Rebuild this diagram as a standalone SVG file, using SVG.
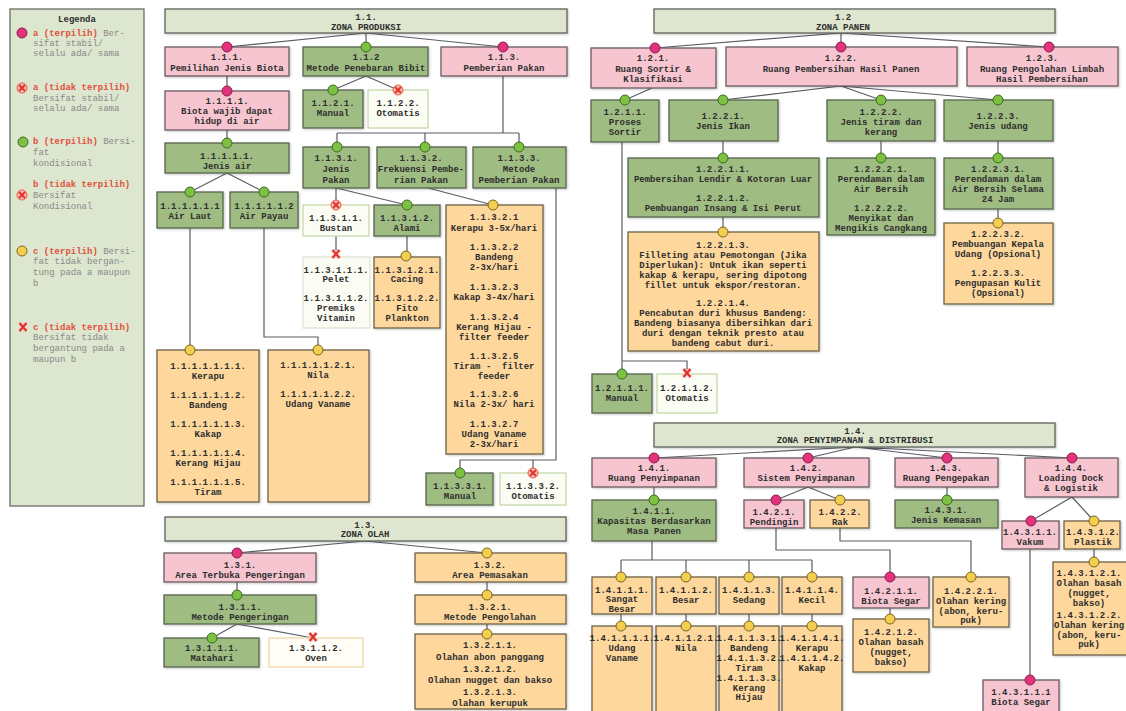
<svg xmlns="http://www.w3.org/2000/svg" xmlns:xlink="http://www.w3.org/1999/xlink" width="1126" height="711" viewBox="0 0 1126 711">
<style>
rect{stroke-width:1.3}
.p{fill:#f6c5d0;stroke:#6c5b60}
.g{fill:#9fbc82;stroke:#58644e}
.o{fill:#fdd79c;stroke:#6e6148}
.w{fill:#fbfcf4;stroke:#c5dbab}
.wo{fill:#fffdf6;stroke:#f0d8a8}
.z{fill:#dfe6cf;stroke:#5e625a}
.lgb{fill:#dde6cf;stroke:#6a6e64}
.sh{filter:url(#sh)}
text{font-family:"Liberation Mono","DejaVu Sans Mono",monospace;font-size:9px}
.t{font-weight:bold;fill:#2e2e2e;text-anchor:middle}
.l{fill:#8a8a8a}
.lr{fill:#e0503c;font-weight:bold}
.c{fill:none;stroke:#5a5d66;stroke-width:1.2}
</style>
<defs>
<filter id="sh" x="-10%" y="-10%" width="130%" height="130%"><feDropShadow dx="1" dy="1" stdDeviation="1" flood-color="#000" flood-opacity="0.22"/></filter>
<g id="ma"><circle r="5" fill="#e3337c" stroke="#8a1f4a" stroke-width="1"/></g>
<g id="mb"><circle r="5" fill="#7dc142" stroke="#3d6b22" stroke-width="1"/></g>
<g id="mc"><circle r="5" fill="#f2cf4f" stroke="#7a6520" stroke-width="1"/></g>
<g id="xb"><circle r="5" fill="#f8b9ae" stroke="#e8604c" stroke-width="1"/><path d="M-3,-3L3,3M3,-3L-3,3" stroke="#e0302a" stroke-width="1.8"/></g>
<g id="xc"><path d="M-3.5,-4L3.5,4M3.5,-4L-3.5,4" stroke="#f9c7c0" stroke-width="4"/><path d="M-3.5,-4L3.5,4M3.5,-4L-3.5,4" stroke="#e0302a" stroke-width="2"/></g>
</defs>
<rect width="1126" height="711" fill="#ffffff"/>

<g id="connectors">
<path class="c" d="M366,33L227,47M366,33L366,47M366,33L503,47M227,76L227,91M227,130L227,143M227,173L190,192M227,173L264,192M190,228L190,350M264,228L264,337L318,337L318,350M366,76L333,90M366,76L398,90M503,76L503,133M337,133L519,133M337,133L337,147M425,133L425,147M519,133L519,147M336,188L336,205M336,188L407,205M428,188L493,205M336,236L336,254M407,236L407,256M556,188L556,460L460,460L460,473M533,460L533,473"/>
<path class="c" d="M365,541L237,553M365,541L487,553M237,582L237,595M487,582L487,595M237,624L212,638M237,624L313,638M487,624L487,634"/>
<path class="c" d="M841,33L655,48M841,33L841,47M841,33L1049,47M652,88L625,100M841,86L723,100M841,86L881,100M841,86L998,100M723,141L723,158M723,217L723,232M881,141L881,158M998,141L998,158M998,209L998,223M622,142L622,374M622,361L687,361L687,373"/>
<path class="c" d="M855,447L654,458M855,447L808,458M855,447L947,458M855,447L1072,458M654,487L654,500M652,541L652,560M621,560L812,560M621,560L621,577M686,560L686,577M749,560L749,577M812,560L812,577M621,614L621,626M686,614L686,626M749,614L749,626M812,614L812,626M808,487L776,500M808,487L840,500M776,528L776,550L890,550L890,577M840,528L840,541L971,541L971,577M890,608L890,619M947,487L947,500M1072,497L1031,521M1072,497L1094,521M1094,549L1094,562M1030,549L1030,680"/>
</g>

<g id="legend">
<rect class="lgb" x="10" y="9" width="134" height="497"/>
<text class="t" x="77" y="22">Legenda</text>
<use href="#ma" x="22" y="33"/>
<text x="33" y="36"><tspan class="lr">a (terpilih)</tspan><tspan class="l"> Ber-</tspan></text>
<text class="l" x="33" y="46">sifat stabil/</text>
<text class="l" x="33" y="56">selalu ada/ sama</text>
<use href="#xb" x="22" y="88"/>
<text class="lr" x="33" y="90">a (tidak terpilih)</text>
<text class="l" x="33" y="101">Bersifat stabil/</text>
<text class="l" x="33" y="111">selalu ada/ sama</text>
<use href="#mb" x="23" y="142"/>
<text x="33" y="144"><tspan class="lr">b (terpilih)</tspan><tspan class="l"> Bersi-</tspan></text>
<text class="l" x="33" y="155">fat</text>
<text class="l" x="33" y="166">kondisional</text>
<use href="#xb" x="22" y="195"/>
<text class="lr" x="33" y="187">b (tidak terpilih)</text>
<text class="l" x="33" y="198">Bersifat</text>
<text class="l" x="33" y="209">Kondisional</text>
<use href="#mc" x="22" y="251"/>
<text x="33" y="254"><tspan class="lr">c (terpilih)</tspan><tspan class="l"> Bersi-</tspan></text>
<text class="l" x="33" y="264">fat tidak bergan-</text>
<text class="l" x="33" y="275">tung pada a maupun</text>
<text class="l" x="33" y="286">b</text>
<use href="#xc" x="23" y="327"/>
<text class="lr" x="33" y="330">c (tidak terpilih)</text>
<text class="l" x="33" y="340">Bersifat tidak</text>
<text class="l" x="33" y="351">bergantung pada a</text>
<text class="l" x="33" y="362">maupun b</text>
</g>

<!-- ZONA 1.1 -->
<g id="z11"><rect class="z sh" x="165" y="9" width="402" height="24"/><text class="t" x="366" y="20">1.1.</text><text class="t" x="366" y="30">ZONA PRODUKSI</text></g>
<g id="n111"><rect class="p sh" x="165" y="47" width="124" height="29"/><use href="#ma" x="227" y="47"/><text class="t" x="227" y="60">1.1.1.</text><text class="t" x="227" y="71">Pemilihan Jenis Biota</text></g>
<g id="n1111"><rect class="p sh" x="165" y="91" width="124" height="39"/><use href="#ma" x="227" y="91"/><text class="t" x="227" y="104">1.1.1.1.</text><text class="t" x="227" y="114">Biota wajib dapat</text><text class="t" x="227" y="124">hidup di air</text></g>
<g id="n11111"><rect class="g sh" x="165" y="143" width="124" height="30"/><use href="#mb" x="227" y="143"/><text class="t" x="227" y="159">1.1.1.1.1.</text><text class="t" x="227" y="169">Jenis air</text></g>
<g id="n111111"><rect class="g sh" x="157" y="192" width="66" height="36"/><use href="#mb" x="190" y="192"/><text class="t" x="190" y="209">1.1.1.1.1.1</text><text class="t" x="190" y="219">Air Laut</text></g>
<g id="n111112"><rect class="g sh" x="230" y="192" width="68" height="36"/><use href="#mb" x="264" y="192"/><text class="t" x="264" y="209">1.1.1.1.1.2</text><text class="t" x="264" y="219">Air Payau</text></g>
<g id="n1111111"><rect class="o sh" x="157" y="350" width="102" height="152"/><use href="#mc" x="190" y="350"/>
<text class="t" x="208" y="369">1.1.1.1.1.1.1.</text><text class="t" x="208" y="379">Kerapu</text>
<text class="t" x="208" y="398">1.1.1.1.1.1.2.</text><text class="t" x="208" y="408">Bandeng</text>
<text class="t" x="208" y="427">1.1.1.1.1.1.3.</text><text class="t" x="208" y="437">Kakap</text>
<text class="t" x="208" y="456">1.1.1.1.1.1.4.</text><text class="t" x="208" y="466">Kerang Hijau</text>
<text class="t" x="208" y="485">1.1.1.1.1.1.5.</text><text class="t" x="208" y="495">Tiram</text></g>
<g id="n1111121"><rect class="o sh" x="268" y="350" width="101" height="152"/><use href="#mc" x="318" y="350"/>
<text class="t" x="318" y="368">1.1.1.1.1.2.1.</text><text class="t" x="318" y="378">Nila</text>
<text class="t" x="318" y="397">1.1.1.1.1.2.2.</text><text class="t" x="318" y="407">Udang Vaname</text></g>
<g id="n112"><rect class="g sh" x="303" y="47" width="125" height="29"/><use href="#mb" x="366" y="47"/><text class="t" x="366" y="60">1.1.2</text><text class="t" x="366" y="71">Metode Penebaran Bibit</text></g>
<g id="n1121"><rect class="g sh" x="303" y="90" width="60" height="38"/><use href="#mb" x="333" y="90"/><text class="t" x="333" y="106">1.1.2.1.</text><text class="t" x="333" y="116">Manual</text></g>
<g id="n1122"><rect class="w" x="368" y="90" width="60" height="38"/><use href="#xb" x="398" y="90"/><text class="t" x="398" y="106">1.1.2.2.</text><text class="t" x="398" y="116">Otomatis</text></g>
<g id="n113"><rect class="p sh" x="441" y="47" width="126" height="29"/><use href="#ma" x="503" y="47"/><text class="t" x="504" y="60">1.1.3.</text><text class="t" x="504" y="71">Pemberian Pakan</text></g>
<g id="n1131"><rect class="g sh" x="303" y="147" width="66" height="41"/><use href="#mb" x="337" y="147"/><text class="t" x="336" y="161">1.1.3.1.</text><text class="t" x="336" y="172">Jenis</text><text class="t" x="336" y="183">Pakan</text></g>
<g id="n1132"><rect class="g sh" x="377" y="147" width="89" height="41"/><use href="#mb" x="425" y="147"/><text class="t" x="421" y="161">1.1.3.2.</text><text class="t" x="421" y="172">Frekuensi Pembe-</text><text class="t" x="421" y="183">rian Pakan</text></g>
<g id="n1133"><rect class="g sh" x="473" y="147" width="93" height="41"/><use href="#mb" x="519" y="147"/><text class="t" x="519" y="161">1.1.3.3.</text><text class="t" x="519" y="172">Metode</text><text class="t" x="519" y="183">Pemberian Pakan</text></g>
<g id="n11311"><rect class="w" x="303" y="205" width="66" height="31"/><use href="#xb" x="336" y="205"/><text class="t" x="336" y="221">1.1.3.1.1.</text><text class="t" x="336" y="231">Bustan</text></g>
<g id="n11312"><rect class="g sh" x="374" y="205" width="66" height="31"/><use href="#mb" x="407" y="205"/><text class="t" x="407" y="221">1.1.3.1.2.</text><text class="t" x="407" y="231">Alami</text></g>
<g id="n113111"><rect class="w" x="303" y="257" width="67" height="71" style="stroke:#e2e4d2"/><use href="#xc" x="336" y="254"/>
<text class="t" x="336" y="273">1.1.3.1.1.1.</text><text class="t" x="336" y="282">Pelet</text>
<text class="t" x="336" y="301">1.1.3.1.1.2.</text><text class="t" x="336" y="311">Premiks</text><text class="t" x="336" y="321">Vitamin</text></g>
<g id="n113121"><rect class="o sh" x="374" y="257" width="66" height="71"/><use href="#mc" x="406" y="256"/>
<text class="t" x="407" y="273">1.1.3.1.2.1.</text><text class="t" x="407" y="282">Cacing</text>
<text class="t" x="407" y="301">1.1.3.1.2.2.</text><text class="t" x="407" y="311">Fito</text><text class="t" x="407" y="321">Plankton</text></g>
<g id="n11321"><rect class="o sh" x="446" y="205" width="97" height="249"/><use href="#mc" x="493" y="205"/>
<text class="t" x="494" y="220">1.1.3.2.1</text><text class="t" x="494" y="231">Kerapu 3-5x/hari</text>
<text class="t" x="494" y="250">1.1.3.2.2</text><text class="t" x="494" y="260">Bandeng</text><text class="t" x="494" y="270">2-3x/hari</text>
<text class="t" x="494" y="290">1.1.3.2.3</text><text class="t" x="494" y="300">Kakap 3-4x/hari</text>
<text class="t" x="494" y="320">1.1.3.2.4</text><text class="t" x="494" y="330">Kerang Hijau -</text><text class="t" x="494" y="340">filter feeder</text>
<text class="t" x="494" y="359">1.1.3.2.5</text><text class="t" x="494" y="369" xml:space="preserve">Tiram -  filter</text><text class="t" x="494" y="379">feeder</text>
<text class="t" x="494" y="397">1.1.3.2.6</text><text class="t" x="494" y="407">Nila 2-3x/ hari</text>
<text class="t" x="494" y="427">1.1.3.2.7</text><text class="t" x="494" y="437">Udang Vaname</text><text class="t" x="494" y="447">2-3x/hari</text></g>
<g id="n11331"><rect class="g sh" x="426" y="473" width="67" height="32"/><use href="#mb" x="460" y="473"/><text class="t" x="460" y="489">1.1.3.3.1.</text><text class="t" x="460" y="499">Manual</text></g>
<g id="n11332"><rect class="w" x="500" y="473" width="66" height="32"/><use href="#xb" x="533" y="473"/><text class="t" x="533" y="489">1.1.3.3.2.</text><text class="t" x="533" y="499">Otomatis</text></g>

<!-- ZONA 1.3 -->
<g id="z13"><rect class="z sh" x="165" y="517" width="401" height="24"/><text class="t" x="365" y="528">1.3.</text><text class="t" x="365" y="537">ZONA OLAH</text></g>
<g id="n131"><rect class="p sh" x="164" y="553" width="152" height="29"/><use href="#ma" x="237" y="553"/><text class="t" x="240" y="568">1.3.1.</text><text class="t" x="240" y="578">Area Terbuka Pengeringan</text></g>
<g id="n1311"><rect class="g sh" x="164" y="595" width="152" height="29"/><use href="#mb" x="237" y="595"/><text class="t" x="240" y="610">1.3.1.1.</text><text class="t" x="240" y="620">Metode Pengeringan</text></g>
<g id="n13111"><rect class="g sh" x="164" y="638" width="95" height="29"/><use href="#mb" x="212" y="638"/><text class="t" x="212" y="651">1.3.1.1.1.</text><text class="t" x="212" y="661">Matahari</text></g>
<g id="n13112"><rect class="wo" x="269" y="638" width="94" height="29"/><use href="#xc" x="313" y="637"/><text class="t" x="316" y="651">1.3.1.1.2.</text><text class="t" x="316" y="661">Oven</text></g>
<g id="n132"><rect class="o sh" x="415" y="553" width="151" height="29"/><use href="#mc" x="487" y="553"/><text class="t" x="490" y="568">1.3.2.</text><text class="t" x="490" y="578">Area Pemasakan</text></g>
<g id="n1321"><rect class="o sh" x="415" y="595" width="151" height="29"/><use href="#mc" x="487" y="595"/><text class="t" x="490" y="610">1.3.2.1.</text><text class="t" x="490" y="620">Metode Pengolahan</text></g>
<g id="n13211"><rect class="o sh" x="415" y="634" width="151" height="75"/><use href="#mc" x="487" y="634"/>
<text class="t" x="490" y="648">1.3.2.1.1.</text><text class="t" x="490" y="660">Olahan abon panggang</text>
<text class="t" x="490" y="672">1.3.2.1.2.</text><text class="t" x="490" y="683">Olahan nugget dan bakso</text>
<text class="t" x="490" y="695">1.3.2.1.3.</text><text class="t" x="490" y="706">Olahan kerupuk</text></g>

<!-- ZONA 1.2 -->
<g id="z12"><rect class="z sh" x="654" y="9" width="401" height="24"/><text class="t" x="843" y="20">1.2</text><text class="t" x="843" y="30">ZONA PANEN</text></g>
<g id="n121"><rect class="p sh" x="591" y="48" width="125" height="40"/><use href="#ma" x="655" y="48"/><text class="t" x="653" y="61">1.2.1.</text><text class="t" x="653" y="72">Ruang Sortir &amp;</text><text class="t" x="653" y="82">Klasifikasi</text></g>
<g id="n122"><rect class="p sh" x="726" y="47" width="231" height="39"/><use href="#ma" x="841" y="47"/><text class="t" x="841" y="61">1.2.2.</text><text class="t" x="841" y="72">Ruang Pembersihan Hasil Panen</text></g>
<g id="n123"><rect class="p sh" x="967" y="47" width="151" height="39"/><use href="#ma" x="1049" y="47"/><text class="t" x="1042" y="61">1.2.3.</text><text class="t" x="1042" y="72">Ruang Pengolahan Limbah</text><text class="t" x="1042" y="82">Hasil Pembersihan</text></g>
<g id="n1211"><rect class="g sh" x="591" y="100" width="68" height="42"/><use href="#mb" x="625" y="100"/><text class="t" x="625" y="115">1.2.1.1.</text><text class="t" x="625" y="125">Proses</text><text class="t" x="625" y="135">Sortir</text></g>
<g id="n1221"><rect class="g sh" x="669" y="100" width="109" height="41"/><use href="#mb" x="723" y="100"/><text class="t" x="723" y="119">1.2.2.1.</text><text class="t" x="723" y="129">Jenis Ikan</text></g>
<g id="n1222"><rect class="g sh" x="827" y="100" width="108" height="41"/><use href="#mb" x="881" y="100"/><text class="t" x="881" y="115">1.2.2.2.</text><text class="t" x="881" y="125">Jenis tiram dan</text><text class="t" x="881" y="135">kerang</text></g>
<g id="n1223"><rect class="g sh" x="944" y="100" width="109" height="41"/><use href="#mb" x="998" y="100"/><text class="t" x="998" y="119">1.2.2.3.</text><text class="t" x="998" y="129">Jenis udang</text></g>
<g id="n12211"><rect class="g sh" x="628" y="158" width="191" height="59"/><use href="#mb" x="723" y="158"/>
<text class="t" x="723" y="172">1.2.2.1.1.</text><text class="t" x="723" y="182">Pembersihan Lendir &amp; Kotoran Luar</text>
<text class="t" x="723" y="201">1.2.2.1.2.</text><text class="t" x="723" y="211">Pembuangan Insang &amp; Isi Perut</text></g>
<g id="n12213"><rect class="o sh" x="628" y="232" width="191" height="119"/><use href="#mc" x="723" y="232"/>
<text class="t" x="723" y="248">1.2.2.1.3.</text><text class="t" x="723" y="258">Filleting atau Pemotongan (Jika</text><text class="t" x="723" y="268">Diperlukan): Untuk ikan seperti</text><text class="t" x="723" y="278">kakap &amp; kerapu, sering dipotong</text><text class="t" x="723" y="288">fillet untuk ekspor/restoran.</text>
<text class="t" x="723" y="306">1.2.2.1.4.</text><text class="t" x="723" y="316">Pencabutan duri khusus Bandeng:</text><text class="t" x="723" y="326">Bandeng biasanya dibersihkan dari</text><text class="t" x="723" y="336">duri dengan teknik presto atau</text><text class="t" x="723" y="346">bandeng cabut duri.</text></g>
<g id="n12221"><rect class="g sh" x="827" y="158" width="108" height="77"/><use href="#mb" x="881" y="158"/>
<text class="t" x="881" y="172">1.2.2.2.1.</text><text class="t" x="881" y="182">Perendaman dalam</text><text class="t" x="881" y="192">Air Bersih</text>
<text class="t" x="881" y="211">1.2.2.2.2.</text><text class="t" x="881" y="221">Menyikat dan</text><text class="t" x="881" y="231">Mengikis Cangkang</text></g>
<g id="n12231"><rect class="g sh" x="944" y="158" width="109" height="51"/><use href="#mb" x="998" y="158"/>
<text class="t" x="998" y="172">1.2.2.3.1.</text><text class="t" x="998" y="182">Perendaman dalam</text><text class="t" x="998" y="192">Air Bersih Selama</text><text class="t" x="998" y="202">24 Jam</text></g>
<g id="n12232"><rect class="o sh" x="944" y="223" width="109" height="81"/><use href="#mc" x="998" y="223"/>
<text class="t" x="998" y="237">1.2.2.3.2.</text><text class="t" x="998" y="247">Pembuangan Kepala</text><text class="t" x="998" y="257">Udang (Opsional)</text>
<text class="t" x="998" y="276">1.2.2.3.3.</text><text class="t" x="998" y="286">Pengupasan Kulit</text><text class="t" x="998" y="296">(Opsional)</text></g>
<g id="n12111"><rect class="g sh" x="592" y="374" width="60" height="39"/><use href="#mb" x="622" y="374"/><text class="t" x="622" y="391">1.2.1.1.1.</text><text class="t" x="622" y="401">Manual</text></g>
<g id="n12112"><rect class="w" x="657" y="374" width="60" height="39"/><use href="#xc" x="687" y="373"/><text class="t" x="687" y="391">1.2.1.1.2.</text><text class="t" x="687" y="401">Otomatis</text></g>

<!-- ZONA 1.4 -->
<g id="z14"><rect class="z sh" x="654" y="423" width="401" height="24"/><text class="t" x="855" y="434">1.4.</text><text class="t" x="855" y="443">ZONA PENYIMPANAN &amp; DISTRIBUSI</text></g>
<g id="n141"><rect class="p sh" x="592" y="458" width="124" height="29"/><use href="#ma" x="654" y="458"/><text class="t" x="654" y="471">1.4.1.</text><text class="t" x="654" y="481">Ruang Penyimpanan</text></g>
<g id="n142"><rect class="p sh" x="744" y="458" width="125" height="29"/><use href="#ma" x="808" y="458"/><text class="t" x="806" y="471">1.4.2.</text><text class="t" x="806" y="481">Sistem Penyimpanan</text></g>
<g id="n143"><rect class="p sh" x="895" y="458" width="103" height="29"/><use href="#ma" x="947" y="458"/><text class="t" x="946" y="471">1.4.3.</text><text class="t" x="946" y="481">Ruang Pengepakan</text></g>
<g id="n144"><rect class="p sh" x="1025" y="458" width="93" height="39"/><use href="#ma" x="1072" y="458"/><text class="t" x="1071" y="471">1.4.4.</text><text class="t" x="1071" y="481">Loading Dock</text><text class="t" x="1071" y="491">&amp; Logistik</text></g>
<g id="n1411"><rect class="g sh" x="592" y="500" width="124" height="41"/><use href="#mb" x="654" y="500"/><text class="t" x="654" y="514">1.4.1.1.</text><text class="t" x="654" y="524">Kapasitas Berdasarkan</text><text class="t" x="654" y="534">Masa Panen</text></g>
<g id="n14111"><rect class="o sh" x="592" y="577" width="60" height="37"/><use href="#mc" x="621" y="577"/><text class="t" x="622" y="593">1.4.1.1.1.</text><text class="t" x="622" y="602">Sangat</text><text class="t" x="622" y="612">Besar</text></g>
<g id="n14112"><rect class="o sh" x="656" y="577" width="60" height="37"/><use href="#mc" x="686" y="577"/><text class="t" x="686" y="593">1.4.1.1.2.</text><text class="t" x="686" y="603">Besar</text></g>
<g id="n14113"><rect class="o sh" x="719" y="577" width="60" height="37"/><use href="#mc" x="749" y="577"/><text class="t" x="749" y="593">1.4.1.1.3.</text><text class="t" x="749" y="603">Sedang</text></g>
<g id="n14114"><rect class="o sh" x="782" y="577" width="60" height="37"/><use href="#mc" x="812" y="577"/><text class="t" x="812" y="593">1.4.1.1.4.</text><text class="t" x="812" y="603">Kecil</text></g>
<g id="n141111"><rect class="o sh" x="592" y="626" width="60" height="86"/><use href="#mc" x="621" y="626"/><text class="t" x="622" y="641">1.4.1.1.1.1.</text><text class="t" x="622" y="651">Udang</text><text class="t" x="622" y="661">Vaname</text></g>
<g id="n141121"><rect class="o sh" x="656" y="626" width="60" height="86"/><use href="#mc" x="686" y="626"/><text class="t" x="686" y="641">1.4.1.1.2.1.</text><text class="t" x="686" y="651">Nila</text></g>
<g id="n141131"><rect class="o sh" x="719" y="626" width="60" height="86"/><use href="#mc" x="749" y="626"/>
<text class="t" x="749" y="641">1.4.1.1.3.1.</text><text class="t" x="749" y="651">Bandeng</text><text class="t" x="749" y="661">1.4.1.1.3.2.</text><text class="t" x="749" y="671">Tiram</text><text class="t" x="749" y="681">1.4.1.1.3.3.</text><text class="t" x="749" y="691">Kerang</text><text class="t" x="749" y="700">Hijau</text></g>
<g id="n141141"><rect class="o sh" x="782" y="626" width="60" height="86"/><use href="#mc" x="812" y="626"/>
<text class="t" x="812" y="641">1.4.1.1.4.1.</text><text class="t" x="812" y="651">Kerapu</text><text class="t" x="812" y="661">1.4.1.1.4.2.</text><text class="t" x="812" y="671">Kakap</text></g>
<g id="n1421"><rect class="p sh" x="744" y="500" width="60" height="28"/><use href="#ma" x="776" y="500"/><text class="t" x="774" y="515">1.4.2.1.</text><text class="t" x="774" y="525">Pendingin</text></g>
<g id="n1422"><rect class="o sh" x="810" y="500" width="59" height="28"/><use href="#mc" x="840" y="500"/><text class="t" x="840" y="515">1.4.2.2.</text><text class="t" x="840" y="525">Rak</text></g>
<g id="n14211"><rect class="p sh" x="853" y="577" width="76" height="31"/><use href="#ma" x="890" y="577"/><text class="t" x="891" y="594">1.4.2.1.1.</text><text class="t" x="891" y="604">Biota Segar</text></g>
<g id="n14212"><rect class="o sh" x="853" y="619" width="76" height="53"/><use href="#mc" x="890" y="619"/><text class="t" x="891" y="635">1.4.2.1.2.</text><text class="t" x="891" y="645">Olahan basah</text><text class="t" x="891" y="655">(nugget,</text><text class="t" x="891" y="665">bakso)</text></g>
<g id="n14221"><rect class="o sh" x="933" y="577" width="76" height="50"/><use href="#mc" x="971" y="577"/><text class="t" x="971" y="594">1.4.2.2.1.</text><text class="t" x="971" y="604">Olahan kering</text><text class="t" x="971" y="614">(abon, keru-</text><text class="t" x="971" y="623">puk)</text></g>
<g id="n1431"><rect class="g sh" x="895" y="500" width="103" height="28"/><use href="#mb" x="947" y="500"/><text class="t" x="946" y="513">1.4.3.1.</text><text class="t" x="946" y="523">Jenis Kemasan</text></g>
<g id="n14311"><rect class="p sh" x="1002" y="521" width="57" height="28"/><use href="#ma" x="1031" y="521"/><text class="t" x="1030" y="535">1.4.3.1.1.</text><text class="t" x="1030" y="545">Vakum</text></g>
<g id="n14312"><rect class="o sh" x="1064" y="521" width="56" height="28"/><use href="#mc" x="1094" y="521"/><text class="t" x="1093" y="535">1.4.3.1.2.</text><text class="t" x="1093" y="545">Plastik</text></g>
<g id="n143121"><rect class="o sh" x="1053" y="562" width="79" height="93"/><use href="#mc" x="1094" y="562"/>
<text class="t" x="1089" y="576">1.4.3.1.2.1.</text><text class="t" x="1089" y="586">Olahan basah</text><text class="t" x="1089" y="596">(nugget,</text><text class="t" x="1089" y="606">bakso)</text>
<text class="t" x="1089" y="618">1.4.3.1.2.2.</text><text class="t" x="1089" y="628">Olahan kering</text><text class="t" x="1089" y="638">(abon, keru-</text><text class="t" x="1089" y="647">puk)</text></g>
<g id="n143111"><rect class="p sh" x="983" y="680" width="76" height="32"/><use href="#ma" x="1030" y="680"/><text class="t" x="1021" y="695">1.4.3.1.1.1</text><text class="t" x="1021" y="705">Biota Segar</text></g>
</svg>
